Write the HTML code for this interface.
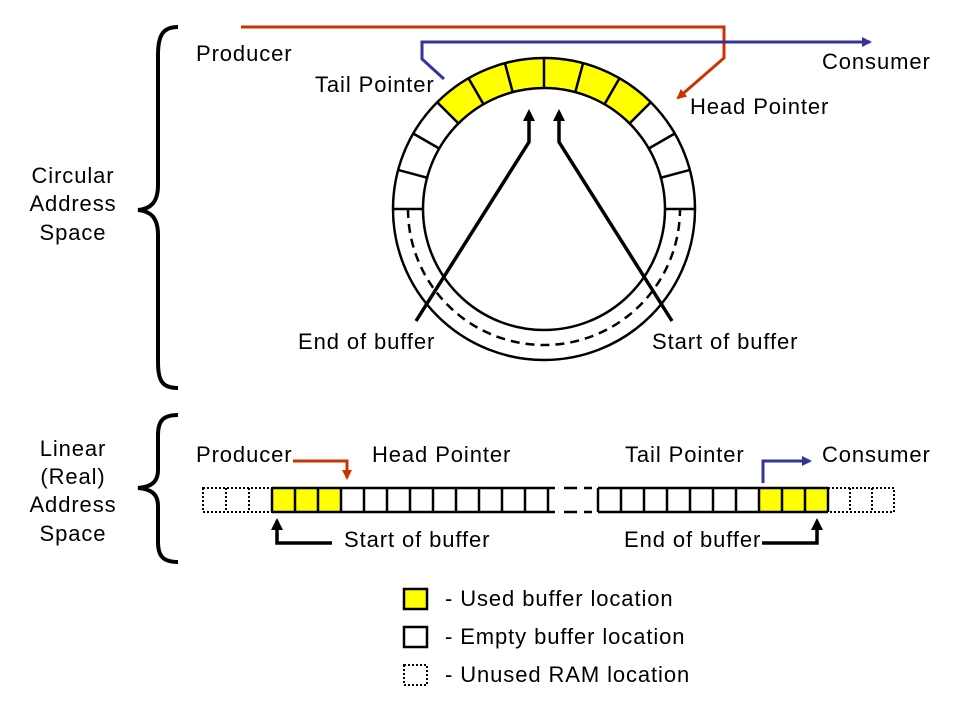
<!DOCTYPE html>
<html><head><meta charset="utf-8"><style>
body{margin:0;background:#fff;}
svg{display:block;}
text{font-family:"Liberation Sans",Arial,sans-serif;font-size:22px;letter-spacing:0.9px;fill:#000;}
</style></head><body>
<svg width="960" height="720" viewBox="0 0 960 720" xmlns="http://www.w3.org/2000/svg">
<defs>
<marker id="ar" markerWidth="10" markerHeight="10" refX="8" refY="5" orient="auto" markerUnits="userSpaceOnUse"><path d="M0,0 L10,5 L0,10 Z" fill="#cc3300"/></marker>
<marker id="ab" markerWidth="10" markerHeight="10" refX="8" refY="5" orient="auto" markerUnits="userSpaceOnUse"><path d="M0,0 L10,5 L0,10 Z" fill="#333399"/></marker>
<marker id="ak" markerWidth="12" markerHeight="12" refX="9" refY="6" orient="auto" markerUnits="userSpaceOnUse"><path d="M0,0 L12,6 L0,12 Z" fill="#000"/></marker>
</defs>
<path d="M178,27 C163,27 158,35 158,55 L158,185 C158,203 150,209 138,210 C150,211 158,217 158,235 L158,362 C158,382 163,388 178,388" fill="none" stroke="#000" stroke-width="4"/>
<path d="M178,415 C163,415 158,421 158,435 L158,470 C158,483 150,487 138,488 C150,489 158,493 158,506 L158,542 C158,556 163,562 178,562" fill="none" stroke="#000" stroke-width="4"/>
<path d="M437.2,102.2 A151 151 0 0 1 650.8,102.2 L629.6,123.4 A121 121 0 0 0 458.4,123.4 Z" fill="#ffff00"/>
<circle cx="544" cy="209" r="151" fill="none" stroke="#000" stroke-width="2.5"/>
<circle cx="544" cy="209" r="121" fill="none" stroke="#000" stroke-width="2.5"/>
<path d="M408,209 A136 136 0 0 0 680,209" fill="none" stroke="#000" stroke-width="2.5" stroke-dasharray="9,6"/>
<g stroke="#000" stroke-width="2.5">
<line x1="544" y1="58" x2="544" y2="88"/>
<line x1="504.9" y1="63.1" x2="512.7" y2="92.1"/><line x1="583.1" y1="63.1" x2="575.3" y2="92.1"/>
<line x1="468.5" y1="78.2" x2="483.5" y2="104.2"/><line x1="619.5" y1="78.2" x2="604.5" y2="104.2"/>
<line x1="437.2" y1="102.2" x2="458.4" y2="123.4"/><line x1="650.8" y1="102.2" x2="629.6" y2="123.4"/>
<line x1="413.2" y1="133.5" x2="439.2" y2="148.5"/><line x1="674.8" y1="133.5" x2="648.8" y2="148.5"/>
<line x1="398.1" y1="169.9" x2="427.1" y2="177.7"/><line x1="689.9" y1="169.9" x2="660.9" y2="177.7"/>
<line x1="393" y1="209" x2="423" y2="209"/><line x1="665" y1="209" x2="695" y2="209"/>
</g>
<polyline points="416,321 529,142 529,112" fill="none" stroke="#000" stroke-width="3.5" marker-end="url(#ak)"/>
<polyline points="672,321 559,142 559,112" fill="none" stroke="#000" stroke-width="3.5" marker-end="url(#ak)"/>
<polyline points="241,27 724,27 724,58 678,98" fill="none" stroke="#cc3300" stroke-width="3" marker-end="url(#ar)"/>
<polyline points="444,79 422,59 422,42 870,42" fill="none" stroke="#333399" stroke-width="3" marker-end="url(#ab)"/>
<text x="196" y="61">Producer</text>
<text x="822" y="69">Consumer</text>
<text x="315" y="92">Tail Pointer</text>
<text x="690" y="114">Head Pointer</text>
<text x="73" y="183" text-anchor="middle">Circular</text>
<text x="73" y="211" text-anchor="middle">Address</text>
<text x="73" y="240" text-anchor="middle">Space</text>
<text x="298" y="349">End of buffer</text>
<text x="652" y="349">Start of buffer</text>
<text x="73" y="456" text-anchor="middle">Linear</text>
<text x="73" y="484" text-anchor="middle">(Real)</text>
<text x="73" y="512" text-anchor="middle">Address</text>
<text x="73" y="541" text-anchor="middle">Space</text>
<text x="196" y="462">Producer</text>
<text x="372" y="462">Head Pointer</text>
<text x="625" y="462">Tail Pointer</text>
<text x="822" y="462">Consumer</text>
<text x="344" y="547">Start of buffer</text>
<text x="624" y="547">End of buffer</text>
<rect x="272" y="488" width="69" height="24" fill="#ffff00"/>
<rect x="759" y="488" width="69" height="24" fill="#ffff00"/>
<g stroke="#000" stroke-width="2" stroke-dasharray="2,2" fill="none">
<rect x="203" y="488" width="69" height="24"/><line x1="226" y1="488" x2="226" y2="512"/><line x1="249" y1="488" x2="249" y2="512"/>
<rect x="828" y="488" width="66" height="24"/><line x1="850" y1="488" x2="850" y2="512"/><line x1="872" y1="488" x2="872" y2="512"/>
</g>
<g stroke="#000" stroke-width="2.5" fill="none">
<line x1="272" y1="488" x2="555" y2="488"/><line x1="272" y1="512" x2="555" y2="512"/>
<line x1="598" y1="488" x2="828" y2="488"/><line x1="598" y1="512" x2="828" y2="512"/>
<line x1="272" y1="488" x2="272" y2="512"/><line x1="295" y1="488" x2="295" y2="512"/><line x1="318" y1="488" x2="318" y2="512"/><line x1="341" y1="488" x2="341" y2="512"/><line x1="364" y1="488" x2="364" y2="512"/><line x1="387" y1="488" x2="387" y2="512"/><line x1="410" y1="488" x2="410" y2="512"/><line x1="433" y1="488" x2="433" y2="512"/><line x1="456" y1="488" x2="456" y2="512"/><line x1="479" y1="488" x2="479" y2="512"/><line x1="502" y1="488" x2="502" y2="512"/><line x1="525" y1="488" x2="525" y2="512"/><line x1="548" y1="488" x2="548" y2="512"/>
<line x1="598" y1="488" x2="598" y2="512"/><line x1="621" y1="488" x2="621" y2="512"/><line x1="644" y1="488" x2="644" y2="512"/><line x1="667" y1="488" x2="667" y2="512"/><line x1="690" y1="488" x2="690" y2="512"/><line x1="713" y1="488" x2="713" y2="512"/><line x1="736" y1="488" x2="736" y2="512"/><line x1="759" y1="488" x2="759" y2="512"/><line x1="782" y1="488" x2="782" y2="512"/><line x1="805" y1="488" x2="805" y2="512"/><line x1="828" y1="488" x2="828" y2="512"/>
<line x1="564" y1="488" x2="577" y2="488"/><line x1="564" y1="512" x2="577" y2="512"/>
<line x1="584" y1="488" x2="592" y2="488"/><line x1="584" y1="512" x2="592" y2="512"/>
</g>
<polyline points="293,461 347,461 347,478" fill="none" stroke="#cc3300" stroke-width="3" marker-end="url(#ar)"/>
<polyline points="763,483 763,461 810,461" fill="none" stroke="#333399" stroke-width="3" marker-end="url(#ab)"/>
<polyline points="332,543 277,543 277,521" fill="none" stroke="#000" stroke-width="3.5" marker-end="url(#ak)"/>
<polyline points="762,543 817,543 817,521" fill="none" stroke="#000" stroke-width="3.5" marker-end="url(#ak)"/>
<rect x="404" y="589" width="23" height="20" fill="#ffff00" stroke="#000" stroke-width="2.5"/>
<rect x="404" y="627" width="23" height="20" fill="#fff" stroke="#000" stroke-width="2.5"/>
<rect x="404" y="665" width="23" height="20" fill="none" stroke="#000" stroke-width="2" stroke-dasharray="2,2"/>
<text x="445" y="606">- Used buffer location</text>
<text x="445" y="644">- Empty buffer location</text>
<text x="445" y="682">- Unused RAM location</text>
</svg>
</body></html>
